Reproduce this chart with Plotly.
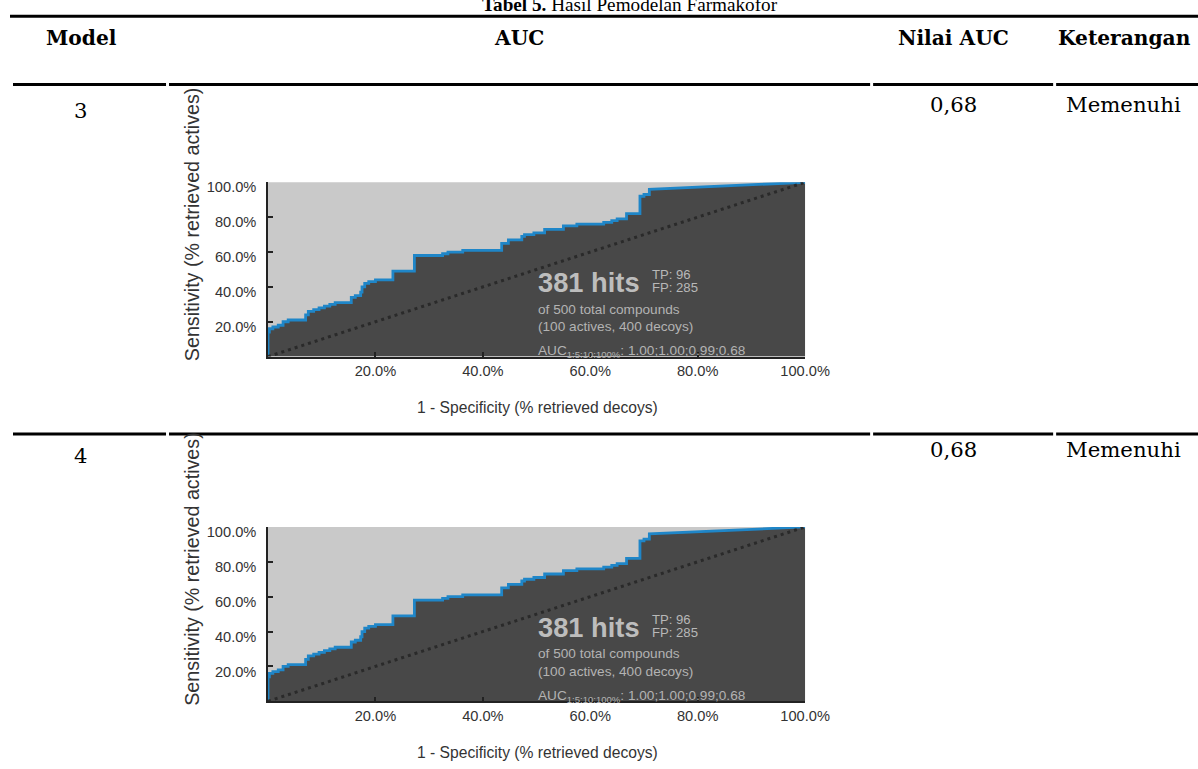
import plotly.graph_objects as go

# ---------------- data ----------------
# ROC step curve, % retrieved decoys (x) vs % retrieved actives (y); same for both models
fpr_steps = [0, 0, 0.25, 0.9, 1.9, 2.8, 3.75, 7.0, 7.5, 8.5, 9.5, 10.5, 11.5, 12.5,
             15.5, 16.25, 17.25, 17.5, 18.0, 18.75, 20.0, 23.25, 27.25, 32.5, 33.5, 36.25,
             43.5, 44.75, 47.25, 47.75, 49.5, 51.5, 55.0, 57.5, 62.5, 64.0, 65.0, 66.75,
             69.25, 70.0, 71.0]
tpr_steps = [0, 14, 16, 17, 18, 20, 21, 24, 26, 27, 28, 29, 30, 31,
             34, 35, 37, 40, 42, 43, 44, 49, 58, 59, 60, 61,
             65, 67, 69, 70, 71, 73, 75, 76, 77, 78, 79, 82,
             92, 93, 96]
# remaining (tied) part of the curve
tail_fpr = [71.0, 100]
tail_tpr = [96, 100]
# random-classifier diagonal
diag_fpr = [0, 100]
diag_tpr = [0, 100]

tick_vals = [20, 40, 60, 80, 100]
tick_text = ["20.0%", "40.0%", "60.0%", "80.0%", "100.0%"]

models = ["3", "4"]
auc_values = ["0,68", "0,68"]
keterangan = ["Memenuhi", "Memenuhi"]
headers = ["Model", "AUC", "Nilai AUC", "Keterangan"]
caption = "<b>Tabel 5.</b> Hasil Pemodelan Farmakofor"

hits, tp, fp = 381, 96, 285
total, actives, decoys = 500, 100, 400
auc_str = "1.00;1.00;0.99;0.68"

# build the full ROC path (step part expanded, then the straight tail)
roc_x, roc_y = [], []
for k, (sx, sy) in enumerate(zip(fpr_steps, tpr_steps)):
    if k > 0:
        roc_x.append(sx)
        roc_y.append(roc_y[-1])
    roc_x.append(sx)
    roc_y.append(sy)
roc_x += tail_fpr[1:]
roc_y += tail_tpr[1:]

# ---------------- layout helpers ----------------
W, H = 1198, 769
SX = 0.979   # horizontal scale of the photographed page (the rules run past the right edge)
def fx(px):
    return (px / SX) / W
def fy(py):
    return 1 - py / H
def fs(size):
    return size / 0.99

PLOT_L, PLOT_R = 268, 805
PLOT_T, PLOT_B = 180, 355
ROW_DY = 346

DARK = "#484848"
LIGHT = "#c9c9c9"
BLUE = "#1f86c8"
AX = "#222222"
TXT = "#333333"
SANS = "Liberation Sans, Arial, sans-serif"
SERIF = "DejaVu Serif, serif"

fig = go.Figure()
annotations = []
shapes = []

def dxf(px):
    return (px - PLOT_L) / (PLOT_R - PLOT_L)
def dyf(py):
    return (PLOT_B - py) / (PLOT_B - PLOT_T)

for i in range(2):
    xa = "x" if i == 0 else "x2"
    ya = "y" if i == 0 else "y2"
    dy = i * ROW_DY
    xd = xa + " domain"
    yd = ya + " domain"
    shapes.append(dict(type="rect", xref=xd, yref=yd, x0=0, x1=1, y0=0, y1=1,
                       fillcolor=LIGHT, line=dict(width=0), layer="below"))
    fig.add_trace(go.Scatter(x=roc_x, y=roc_y, mode="lines",
                             line=dict(color=BLUE, width=2.8), fill="tozeroy",
                             fillcolor=DARK, xaxis=xa, yaxis=ya, showlegend=False,
                             hoverinfo="skip"))
    fig.add_trace(go.Scatter(x=diag_fpr, y=diag_tpr, mode="lines",
                             line=dict(color="#2a2a2a", width=3, dash="3px,4px"),
                             xaxis=xa, yaxis=ya, showlegend=False, hoverinfo="skip"))

    annotations += [
        dict(xref=xd, yref=yd, x=dxf(536), y=dyf(281), xanchor="left", yanchor="middle",
             text=f"<b>{hits} hits</b>", showarrow=False,
             font=dict(family=SANS, size=fs(27), color="#bdbdbd")),
        dict(xref=xd, yref=yd, x=dxf(650), y=dyf(273), xanchor="left", yanchor="middle",
             text=f"TP: {tp}", showarrow=False,
             font=dict(family=SANS, size=fs(13), color="#b8b8b8")),
        dict(xref=xd, yref=yd, x=dxf(650), y=dyf(286), xanchor="left", yanchor="middle",
             text=f"FP: {fp}", showarrow=False,
             font=dict(family=SANS, size=fs(13), color="#b8b8b8")),
        dict(xref=xd, yref=yd, x=dxf(536), y=dyf(307.5), xanchor="left", yanchor="middle",
             text=f"of {total} total compounds", showarrow=False,
             font=dict(family=SANS, size=fs(13.5), color="#b3b3b3")),
        dict(xref=xd, yref=yd, x=dxf(536), y=dyf(325), xanchor="left", yanchor="middle",
             text=f"({actives} actives, {decoys} decoys)", showarrow=False,
             font=dict(family=SANS, size=fs(13.5), color="#b3b3b3")),
        dict(xref=xd, yref=yd, x=dxf(536), y=dyf(350), xanchor="left", yanchor="middle",
             text=f"AUC<sub>1:5:10:100%</sub>: {auc_str}", showarrow=False,
             font=dict(family=SANS, size=fs(13.5), color="#b3b3b3")),
        dict(xref="paper", yref="paper", x=fx(192), y=fy(222 + dy), xanchor="center",
             yanchor="middle", textangle=-90, showarrow=False,
             text="Sensitivity (% retrieved actives)",
             font=dict(family=SANS, size=fs(19.5), color=TXT)),
        dict(xref="paper", yref="paper", x=fx(537), y=fy(406 + dy), xanchor="center",
             yanchor="middle", showarrow=False,
             text="1 - Specificity (% retrieved decoys)",
             font=dict(family=SANS, size=fs(15.5), color=TXT)),
        dict(xref="paper", yref="paper", x=fx(81), y=fy(108 + dy), xanchor="center",
             yanchor="middle", showarrow=False, text=models[i],
             font=dict(family=SERIF, size=fs(21), color="black")),
        dict(xref="paper", yref="paper", x=fx(953), y=fy(102 + dy), xanchor="center",
             yanchor="middle", showarrow=False, text=auc_values[i],
             font=dict(family=SERIF, size=fs(21), color="black")),
        dict(xref="paper", yref="paper", x=fx(1123), y=fy(102 + dy), xanchor="center",
             yanchor="middle", showarrow=False, text=keterangan[i],
             font=dict(family=SERIF, size=fs(21), color="black")),
    ]

header_x = [81, 519, 953, 1124]
for hx, ht in zip(header_x, headers):
    annotations.append(dict(xref="paper", yref="paper", x=fx(hx), y=fy(35),
                            xanchor="center", yanchor="middle", showarrow=False,
                            text=f"<b>{ht}</b>",
                            font=dict(family=SERIF, size=fs(20), color="black")))

# table caption: only its lower part shows at the very top edge
annotations.append(dict(xref="paper", yref="paper", x=fx(630), y=fy(2), xanchor="center",
                        yanchor="middle", showarrow=False, text=caption,
                        font=dict(family="Liberation Serif, serif", size=fs(19),
                                  color="black")))

shapes.append(dict(type="line", xref="paper", yref="paper", x0=fx(10), x1=fx(1198),
                   y0=fy(13.3), y1=fy(13.3), line=dict(color="black", width=3)))
segments = [(13, 166), (169, 870), (873, 1053), (1056, 1198)]
for ry in (81.7, 81.7 + 351):
    for a, b in segments:
        shapes.append(dict(type="line", xref="paper", yref="paper", x0=fx(a), x1=fx(b),
                           y0=fy(ry), y1=fy(ry), line=dict(color="black", width=3)))

axis_common = dict(range=[0, 100], showgrid=False, zeroline=False, showline=True,
                   linecolor=AX, linewidth=1.5, ticks="inside", ticklen=5, tickcolor=AX,
                   tickwidth=1.5, tickvals=tick_vals, ticktext=tick_text,
                   tickfont=dict(family=SANS, size=fs(14.5), color=TXT), fixedrange=True)

xdom = [fx(PLOT_L), fx(PLOT_R)]
fig.update_layout(
    width=W, height=H, margin=dict(l=0, r=0, t=0, b=0),
    paper_bgcolor="white", plot_bgcolor="rgba(0,0,0,0)",
    xaxis=dict(domain=xdom, anchor="y", **axis_common),
    yaxis=dict(domain=[fy(PLOT_B), fy(PLOT_T)], anchor="x", ticklabelshift=5,
               ticklabelstandoff=7, **axis_common),
    xaxis2=dict(domain=xdom, anchor="y2", **axis_common),
    yaxis2=dict(domain=[fy(PLOT_B + ROW_DY), fy(PLOT_T + ROW_DY)], anchor="x2",
                ticklabelshift=5, ticklabelstandoff=7, **axis_common),
    annotations=annotations, shapes=shapes, showlegend=False,
)

fig.write_html("out.html", config={"displayModeBar": False},
               post_script="document.body.style.margin='0';"
                           "document.body.style.overflow='hidden';")
